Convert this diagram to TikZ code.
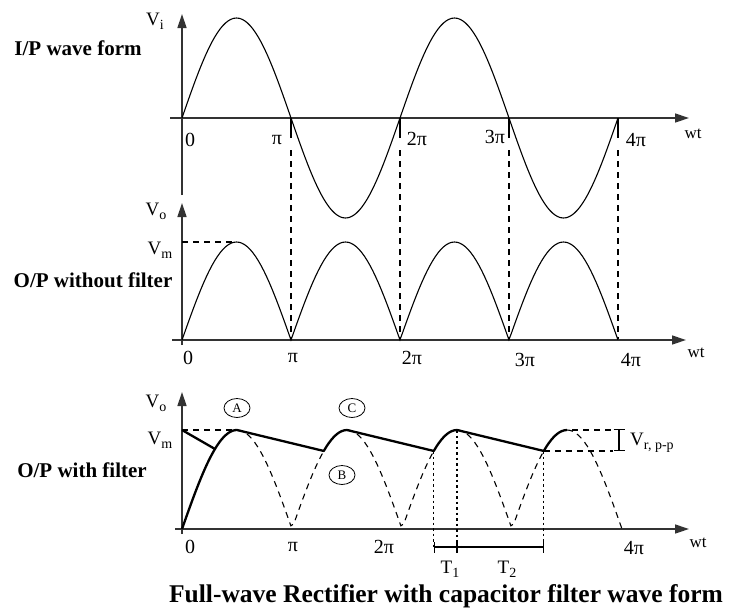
\documentclass[tikz,border=0pt]{standalone}
\usepackage{fontspec}
\setmainfont{Liberation Serif}
\usepackage{xcolor}
\usepackage{tikz}
\usetikzlibrary{arrows.meta, positioning, shapes.geometric}

\newcommand{\lowsub}[1]{\raisebox{-0.45ex}{\fontsize{14}{15}\selectfont #1}}

\begin{document}
\begin{tikzpicture}[
        x=1pt, y=-1pt,
        axis/.style={line width=1.4pt, black!80, -{Triangle[length=14pt, width=9pt]}},
        wave/.style={line width=1.1pt},
        filtered/.style={line width=2.3pt, line join=round},
        guide/.style={line width=1.1pt, dash pattern=on 6pt off 5pt},
        dots/.style={line width=1.3pt, dash pattern=on 2.5pt off 3pt},
        span/.style={line width=1.2pt, {Bar[width=11pt]Latex[length=3pt]}-{Latex[length=3pt]Bar[width=11pt]}},
        caption/.style={font=\bfseries\fontsize{21}{24}\selectfont},
        num/.style={font=\fontsize{20}{22}\selectfont, inner sep=0pt},
        volt/.style={font=\fontsize{19}{21}\selectfont, inner sep=0pt},
        omega/.style={font=\fontsize{17}{19}\selectfont, inner sep=0pt},
        tag/.style={draw, ellipse, line width=0.8pt, minimum width=26pt, minimum height=19pt, inner sep=0pt, font=\fontsize{13}{14}\selectfont}
    ]
    \useasboundingbox (0,0) rectangle (729,614);

    % I/P wave form
    \draw[axis] (182,195) -- (182,14);
    \draw[axis] (170,118) -- (689,118);
    \draw[wave] plot[domain=0:4, samples=161] ({182+109*\x},{118-100*sin(180*\x)});
    \foreach \k in {1,...,4} {
        \draw[line width=1.1pt] ({182+109*\k},118) -- ({182+109*\k},138);
        \draw[guide] ({182+109*\k},150) -- ({182+109*\k},340);
    }
    \node[caption] (inlabel) at (78,48) {I/P wave form};
    \node[volt] (vi) at (155,21) {V\lowsub{i}};
    \node[num] (i0) at (190,140) {0};
    \node[num] (i1) at (277,140) {π};
    \node[num] (i2) at (417,139) {2π};
    \node[num] (i3) at (495,137) {3π};
    \node[num] (i4) at (636,140) {4π};
    \node[omega] (iwt) at (693,134) {wt};

    % O/P without filter
    \draw[axis] (182,345) -- (182,203);
    \draw[axis] (172,340) -- (686,340);
    \draw[wave] plot[domain=0:4, samples=161] ({182+109*\x},{340-98*abs(sin(180*\x))});
    \draw[guide] (182,242) -- (236,242);
    \node[caption] (rawlabel) at (93,280) {O/P without filter};
    \node[volt] (vo1) at (156,211) {V\lowsub{o}};
    \node[volt] (vm1) at (160,250) {V\lowsub{m}};
    \node[num] (o0) at (188,358) {0};
    \node[num] (o1) at (293,358) {π};
    \node[num] (o2) at (412,358) {2π};
    \node[num] (o3) at (525,360) {3π};
    \node[num] (o4) at (631,360) {4π};
    \node[omega] (owt) at (696,353) {wt};

    % O/P with filter
    \draw[axis] (182,534) -- (182,392);
    \draw[axis] (175,529) -- (689,529);
    \draw[guide] (182,430) -- (237,430);
    \foreach \k in {0,1,2} {
        \draw[guide] plot[domain={\k+0.5}:{\k+1.289}, samples=30] ({182+110*\x},{529-99*abs(sin(180*\x))});
    }
    \draw[guide] plot[domain=3.5:4, samples=20] ({182+110*\x},{529-99*abs(sin(180*\x))});
    \draw[filtered] (182,430) -- (215,449);
    \draw[filtered] plot[domain=0:0.5, samples=30] ({182+110*\x},{529-99*abs(sin(180*\x))})
        -- plot[domain=1.289:1.5, samples=10] ({182+110*\x},{529-99*abs(sin(180*\x))})
        -- plot[domain=2.289:2.5, samples=10] ({182+110*\x},{529-99*abs(sin(180*\x))})
        -- plot[domain=3.289:3.5, samples=10] ({182+110*\x},{529-99*abs(sin(180*\x))});
    \coordinate (t0) at (433.8,547);
    \coordinate (t1) at (457,547);
    \coordinate (t2) at (543.8,547);
    \draw[dots] (433.8,451) -- (t0);
    \draw[dots] (457,430) -- (t1);
    \draw[dots] (543.8,451) -- (t2);
    \draw[span] (t0) -- (t1);
    \draw[span] (t1) -- (t2);
    \node[volt] (T1) at (450,569) {T\lowsub{1}};
    \node[volt] (T2) at (507,569) {T\lowsub{2}};
    \draw[guide] (572,430) -- (613,430);
    \draw[guide] (543.8,451) -- (613,451);
    \coordinate (rtop) at (619,429);
    \coordinate (rbot) at (619,451);
    \draw[line width=1.3pt, {Bar[width=11pt]}-{Bar[width=11pt]}] (rtop) -- (rbot);
    \node[volt, anchor=west] (ripple) at (630,443) {V\lowsub{r, p-p}};
    \node[tag] (A) at (237,408) {A};
    \node[tag] (C) at (352,408) {C};
    \node[tag] (B) at (342,475) {B};
    \node[caption] (filtlabel) at (82,470) {O/P with filter};
    \node[volt] (vo2) at (156,403) {V\lowsub{o}};
    \node[volt] (vm2) at (160,440) {V\lowsub{m}};
    \node[num] (f0) at (190,547) {0};
    \node[num] (f1) at (293,547) {π};
    \node[num] (f2) at (384,547) {2π};
    \node[num] (f4) at (634,548) {4π};
    \node[omega] (fwt) at (698,543) {wt};

    \node[caption, font=\bfseries\fontsize{25.5}{28}\selectfont] (title) at (446,596) {Full-wave Rectifier with capacitor filter wave form};
\end{tikzpicture}
\end{document}
